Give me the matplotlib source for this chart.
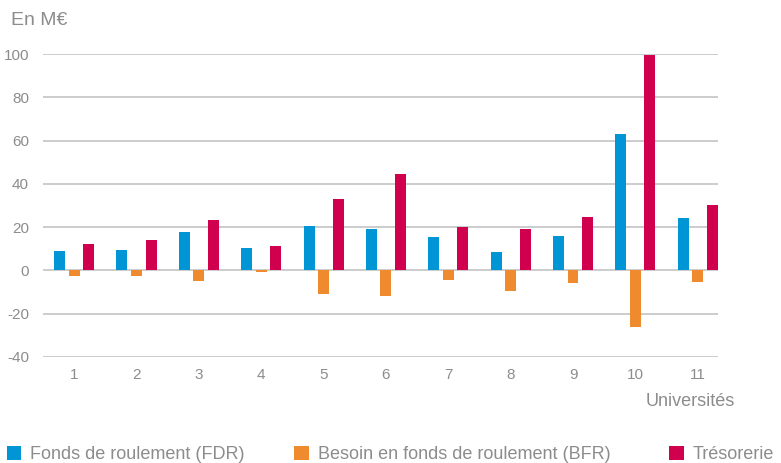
import matplotlib.pyplot as plt
import numpy as np

universites = ['1', '2', '3', '4', '5', '6', '7', '8', '9', '10', '11']
fdr = [9.1, 9.6, 17.9, 10.5, 20.5, 19.1, 15.4, 8.5, 15.9, 63.1, 24.2]
bfr = [-2.5, -2.5, -4.8, -0.8, -11.0, -11.9, -4.5, -9.6, -5.9, -26.2, -5.4]
tresorerie = [12.3, 14.2, 23.4, 11.2, 33.0, 44.6, 20.0, 19.1, 24.7, 99.7, 30.2]
yticks = [-40, -20, 0, 20, 40, 60, 80, 100]

plt.rcParams['font.family'] = ['Liberation Sans', 'DejaVu Sans']

grey = '#8c8c8c'
fig = plt.figure(figsize=(7.81, 4.63), dpi=100)
ax = fig.add_axes([0.055, 0.229, 0.864, 0.654])

x = np.arange(1, len(universites) + 1)
w = 0.176
off = 0.233
b1 = ax.bar(x - off, fdr, w, color='#0096d6', label='Fonds de roulement (FDR)', zorder=3)
b2 = ax.bar(x, bfr, w, color='#f08a2e', label='Besoin en fonds de roulement (BFR)', zorder=3)
b3 = ax.bar(x + off, tresorerie, w, color='#d0004f', label='Trésorerie', zorder=3)

ax.set_xlim(0.5, 11 + off + w / 2)
ax.set_ylim(-40, 100)
ax.set_yticks(yticks)
ax.set_yticklabels([str(v) for v in yticks])
ax.set_xticks(x)
ax.set_xticklabels(universites)
for v in yticks:
    ax.axhline(v, color='#c8c8c8', lw=1.3, zorder=1)
for s in ax.spines.values():
    s.set_visible(False)
ax.tick_params(length=0, colors=grey, labelsize=11)
ax.tick_params(axis='y', pad=10)
ax.tick_params(axis='x', pad=8)

fig.text(0.014, 0.955, 'En M€', color=grey, fontsize=14, va='center')
fig.text(0.941, 0.133, 'Universités', color=grey, fontsize=13, ha='right', va='center')

for h, xpos, loc in [(b1, 0.002, 'center left'), (b2, 0.37, 'center left'),
                     (b3, 0.998, 'center right')]:
    fig.legend(handles=[h], loc=loc, bbox_to_anchor=(xpos, 0.018),
               frameon=False, fontsize=13, labelcolor=grey, handlelength=0.8,
               handleheight=0.8, handletextpad=0.5, borderaxespad=0, borderpad=0.3)

fig.savefig('out.png', dpi=100)
